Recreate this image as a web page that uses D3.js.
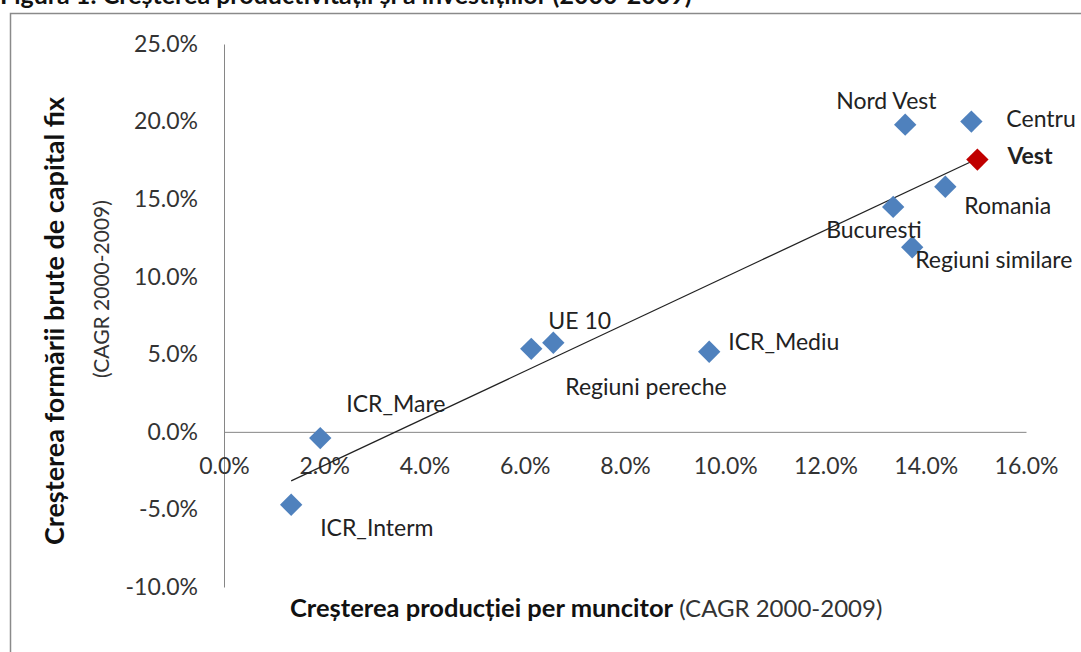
<!DOCTYPE html>
<html>
<head>
<meta charset="utf-8">
<script src="https://cdn.jsdelivr.net/npm/d3@7"></script>
<style>
  body { margin: 0; background: #fff; }
  svg { font-family: Lato, "Open Sans", sans-serif; }
</style>
</head>
<body>
<div id="chart"></div>
<script>
"use strict";

// growth of output per worker (x) vs growth of GFCF (y), CAGR 2000-2009
const names = ['ICR_Interm', 'ICR_Mare', 'Regiuni pereche', 'UE 10', 'ICR_Mediu', 'Bucuresti',
               'Nord Vest', 'Regiuni similare', 'Romania', 'Centru', 'Vest'];
const xVals = [0.0134, 0.0192, 0.0613, 0.0657, 0.0968, 0.1335, 0.1359, 0.1373, 0.1439, 0.1491, 0.1503];
const yVals = [-0.047, -0.004, 0.0535, 0.0574, 0.0516, 0.145, 0.198, 0.119, 0.158, 0.200, 0.1755];
const highlight = ['Vest'];

const xTicks = [0, 0.02, 0.04, 0.06, 0.08, 0.10, 0.12, 0.14, 0.16];
const yTicks = [-0.10, -0.05, 0, 0.05, 0.10, 0.15, 0.20, 0.25];

// label offsets from the marker (text start, vertical centre)
const labelDx = [29, 26, 34, -5, 19, -67, -69, 3, 19, 35, 30];
const labelDy = [23, -34, 38, -22, -10, 23, -24, 13, 19, -3, -4];

const W = 1081, H = 652;
const svg = d3.select('#chart').append('svg').attr('width', W).attr('height', H);

// frame + clipped caption above it
svg.append('text').attr('x', 0).attr('y', 4)
   .attr('font-weight', 'bold').attr('font-size', 25).attr('fill', '#111')
   .text('Figura 1: Creșterea productivității și a investițiilor (2000-2009)');
svg.append('rect').attr('x', 10.5).attr('y', 13.5).attr('width', 1200).attr('height', 800)
   .attr('fill', 'none').attr('stroke', '#8a8a8a').attr('stroke-width', 1.5);

const x = d3.scaleLinear().domain([0, 0.16]).range([224, 1026]);
const y = d3.scaleLinear().domain([-0.10, 0.25]).range([587, 44]);
const pct = v => d3.format('.1%')(v).replace('\u2212', '-');

// y axis
const yAxis = svg.append('g').attr('transform', `translate(${x(0)},0)`)
   .call(d3.axisLeft(y).tickValues(yTicks).tickFormat(pct).tickSize(0).tickPadding(26));
yAxis.select('.domain').attr('stroke', '#868686');
yAxis.selectAll('text').attr('font-size', 23).attr('fill', '#333').attr('font-family', 'Lato');

// x axis crosses at y = 0
const xAxis = svg.append('g').attr('transform', `translate(0,${y(0)})`)
   .call(d3.axisBottom(x).tickValues(xTicks).tickFormat(pct).tickSize(0).tickPadding(26));
xAxis.select('.domain').attr('stroke', '#868686');
xAxis.selectAll('text').attr('font-size', 23).attr('fill', '#333').attr('font-family', 'Lato');

// linear trend line over the data range
const mx = d3.mean(xVals), my = d3.mean(yVals);
const slope = d3.sum(xVals, (v, i) => (v - mx) * (yVals[i] - my)) / d3.sum(xVals, v => (v - mx) * (v - mx));
const icpt = my - slope * mx;
const [x0, x1] = d3.extent(xVals);
svg.append('line')
   .attr('x1', x(x0)).attr('y1', y(icpt + slope * x0))
   .attr('x2', x(x1)).attr('y2', y(icpt + slope * x1))
   .attr('stroke', '#222').attr('stroke-width', 1.3);

// markers
const diamond = d3.symbol().type(d3.symbolSquare).size(250);
const pts = names.map((n, i) => ({ n, x: xVals[i], y: yVals[i], dx: labelDx[i], dy: labelDy[i] }));

svg.selectAll('.pt').data(pts).enter().append('path')
   .attr('class', 'pt')
   .attr('d', diamond)
   .attr('transform', d => `translate(${x(d.x)},${y(d.y)}) rotate(45)`)
   .attr('fill', d => highlight.includes(d.n) ? '#C00000' : '#4F81BD');

svg.selectAll('.lbl').data(pts).enter().append('text')
   .attr('class', 'lbl')
   .attr('x', d => x(d.x) + d.dx)
   .attr('y', d => y(d.y) + d.dy)
   .attr('dy', '0.35em')
   .attr('font-size', 23)
   .attr('fill', '#222')
   .attr('font-weight', d => highlight.includes(d.n) ? 'bold' : 'normal')
   .text(d => d.n);

// axis titles
const xt = svg.append('text').attr('x', 290).attr('y', 617).attr('fill', '#111');
xt.append('tspan').attr('font-weight', 'bold').attr('font-size', 25.5).text('Creșterea producției per muncitor');
xt.append('tspan').attr('fill', '#333').attr('font-size', 24).text(' (CAGR 2000-2009)');

svg.append('text').attr('transform', 'translate(64,321) rotate(-90)')
   .attr('text-anchor', 'middle').attr('font-size', 27).attr('font-weight', 'bold').attr('fill', '#111')
   .text('Creșterea formării brute de capital fix');
svg.append('text').attr('transform', 'translate(109,289) rotate(-90)')
   .attr('text-anchor', 'middle').attr('font-size', 21).attr('fill', '#333')
   .text('(CAGR 2000-2009)');
</script>
</body>
</html>
